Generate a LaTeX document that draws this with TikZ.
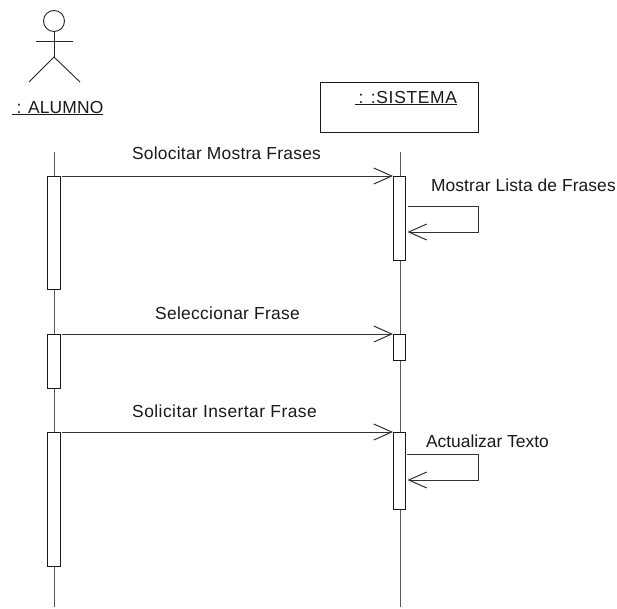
\documentclass[tikz,border=0pt]{standalone}
\usepackage{fontspec}
\setmainfont{Liberation Sans}
\usetikzlibrary{arrows.meta}
\tikzset{
  x=1pt,y=-1pt,
  ln/.style={draw=black!85,line width=0.9pt},
  lifeline/.style={draw=black!65,line width=0.9pt},
  activation/.style={rectangle,draw=black!90,line width=0.9pt,fill=white,minimum width=12.5pt,inner sep=0pt,outer sep=0pt,anchor=north west},
  msg/.style={draw=black!80,line width=1pt,-{Straight Barb[length=18pt,width=16pt,line width=1pt]}},
  lbl/.style={font=\fontsize{17.4}{19}\selectfont,inner sep=0pt,outer sep=0pt,text=black!90,anchor=base},
  lbll/.style={lbl,anchor=base west},
}
\begin{document}
\begin{tikzpicture}
\useasboundingbox (0,0) rectangle (617,608);
\fill[white] (0,0) rectangle (617,608);
% actor
\node[circle,draw=black!85,line width=0.9pt,minimum size=21pt,inner sep=0pt,outer sep=0pt] (head) at (54,21) {};
\coordinate (hip) at (54,57);
\coordinate (armL) at (36,41);
\coordinate (armR) at (73,41);
\coordinate (legL) at (29,82);
\coordinate (legR) at (80,82);
\draw[ln] (head.south) -- (hip);
\draw[ln] (armL) -- (armR);
\draw[ln] (legL) -- (hip) -- (legR);
\node[lbl] (alumno) at (57.5,113) {\addfontfeature{LetterSpace=1.0}\underline{\ : ALUMNO}};
% object
\node[rectangle,draw=black!90,line width=0.9pt,minimum width=158pt,minimum height=50pt,inner sep=0pt,outer sep=0pt,anchor=north west] (sistema) at (320,82) {};
\node[lbl,anchor=base east] (sistemat) at (457,103) {\addfontfeature{LetterSpace=4}\underline{\hspace{3.5pt}: :SISTEMA}};
% lifelines
\coordinate (lAtop) at (54,152);
\coordinate (lAbot) at (54,607);
\coordinate (lBtop) at (400,152);
\coordinate (lBbot) at (400,607);
\draw[lifeline] (lAtop) -- (lAbot);
\draw[lifeline] (lBtop) -- (lBbot);
% activations
\node[activation,minimum height=113pt] (a1) at (47.5,176) {};
\node[activation,minimum height=54pt] (a2) at (47.5,334) {};
\node[activation,minimum height=134pt] (a3) at (47.5,432) {};
\node[activation,minimum height=84pt] (b1) at (393,176) {};
\node[activation,minimum height=26pt] (b2) at (393,334) {};
\node[activation,minimum height=77pt] (b3) at (393,432) {};
% messages
\draw[msg,shorten <=2pt] (a1.north east) -- (b1.north west);
\draw[msg,shorten <=2pt] (a2.north east) -- (b2.north west);
\draw[msg,shorten <=2pt] (a3.north east) -- (b3.north west);
% self messages
\coordinate (s1a) at (408,206);
\coordinate (s1b) at (478,206);
\coordinate (s1c) at (478,232);
\coordinate (s1d) at (407.5,232);
\draw[msg] (s1a) -- (s1b) -- (s1c) -- (s1d);
\coordinate (s2a) at (407,454.5);
\coordinate (s2b) at (478,454.5);
\coordinate (s2c) at (478,480);
\coordinate (s2d) at (407.5,480);
\draw[msg] (s2a) -- (s2b) -- (s2c) -- (s2d);
% labels
\node[lbl] (m1) at (226.5,159) {\addfontfeature{LetterSpace=1.5}Solocitar Mostra Frases};
\node[lbll] (m2) at (431,191) {\addfontfeature{LetterSpace=0.6}Mostrar Lista de Frases};
\node[lbl] (m3) at (227.5,319) {\addfontfeature{LetterSpace=1.7}Seleccionar Frase};
\node[lbl] (m4) at (224.5,417) {\addfontfeature{LetterSpace=2.6}Solicitar Insertar Frase};
\node[lbll] (m5) at (426,447) {Actualizar Texto};
\end{tikzpicture}
\end{document}
